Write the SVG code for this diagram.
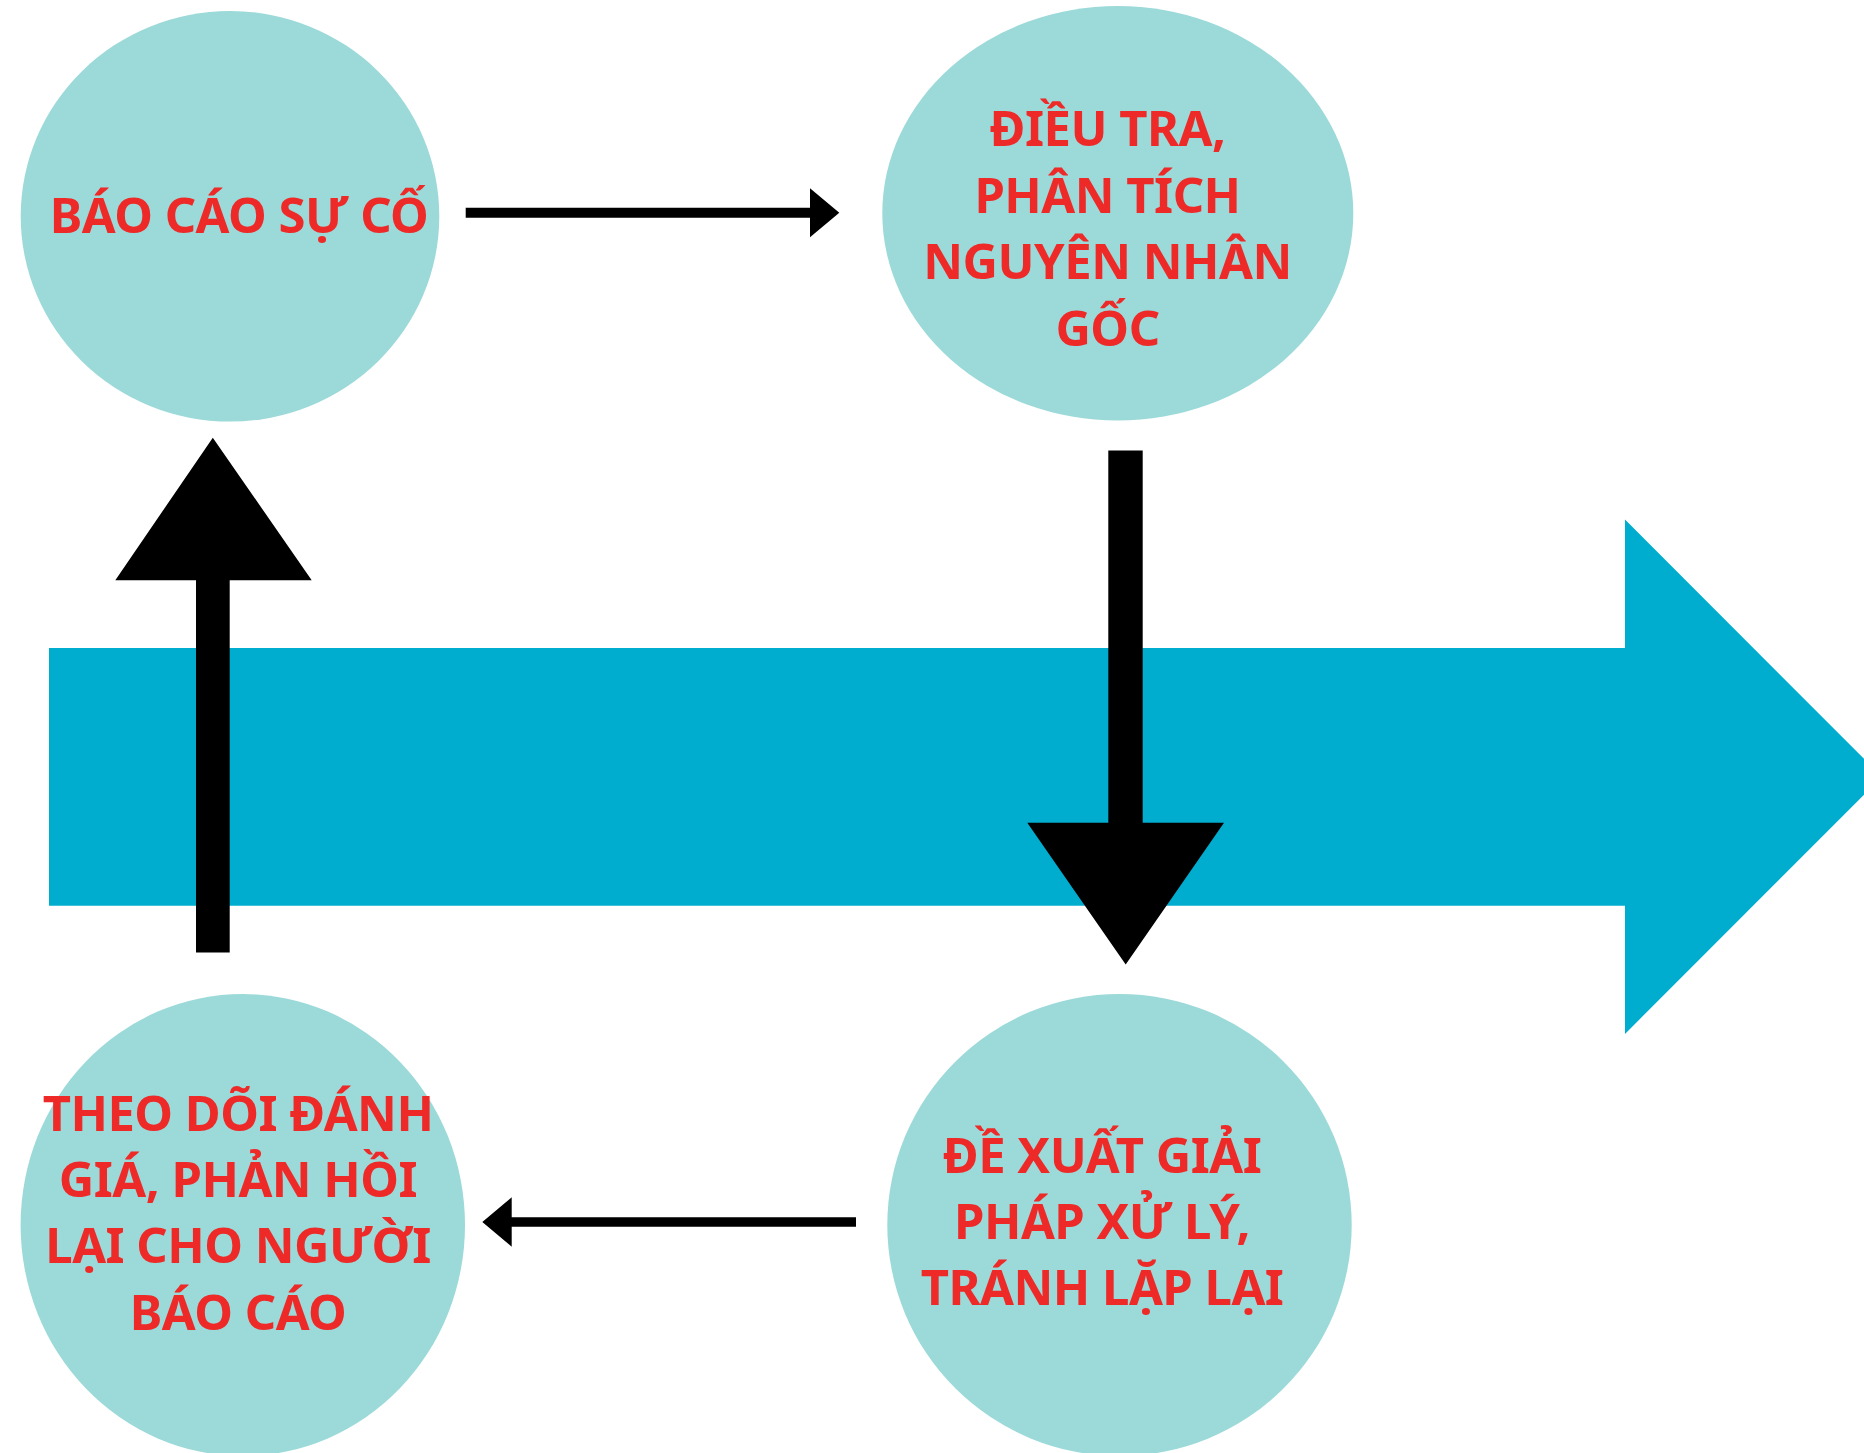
<svg xmlns="http://www.w3.org/2000/svg" width="1864" height="1453" viewBox="0 0 1864 1453">
<style>
.node{fill:#9CD9D9}
.lbl{font-family:"Noto Sans","Open Sans","Liberation Sans",sans-serif;font-weight:700;font-size:49px;letter-spacing:-0.5px;fill:#EE2A28;text-anchor:middle}
.blk{fill:#000}
</style>
<rect width="1864" height="1453" fill="#fff"/>
<g id="flow-arrow">
<polygon points="49,648 1625,648 1625,519.6 1882,776.7 1625,1033.9 1625,905.8 49,905.8" fill="#00ADCE"/>
</g>
<g id="node-bao-cao">
<ellipse class="node" cx="230" cy="216.3" rx="209.3" ry="205.3"/>
<text class="lbl" x="239" y="233.3">BÁO CÁO SỰ CỐ</text>
</g>
<g id="node-dieu-tra">
<ellipse class="node" cx="1117.8" cy="213.3" rx="235.5" ry="207.3"/>
<text class="lbl" x="1107.5" y="146">ĐIỀU TRA,</text>
<text class="lbl" x="1107.5" y="212.7">PHÂN TÍCH</text>
<text class="lbl" x="1107.5" y="279.3">NGUYÊN NHÂN</text>
<text class="lbl" x="1107.5" y="346">GỐC</text>
</g>
<g id="node-de-xuat">
<ellipse class="node" cx="1119.5" cy="1225" rx="232.2" ry="231"/>
<text class="lbl" x="1102" y="1172.7">ĐỀ XUẤT GIẢI</text>
<text class="lbl" x="1102" y="1239.3">PHÁP XỬ LÝ,</text>
<text class="lbl" x="1102" y="1305">TRÁNH LẶP LẠI</text>
</g>
<g id="node-theo-doi">
<ellipse class="node" cx="242.8" cy="1225" rx="222.2" ry="231"/>
<text class="lbl" x="238" y="1130.7">THEO DÕI ĐÁNH</text>
<text class="lbl" x="238" y="1196.7">GIÁ, PHẢN HỒI</text>
<text class="lbl" x="238" y="1263.3">LẠI CHO NGƯỜI</text>
<text class="lbl" x="238" y="1330">BÁO CÁO</text>
</g>
<g id="connectors">
<polygon class="blk" points="465.7,207.7 810,207.7 810,188.3 839.3,212.7 810,237.3 810,217.7 465.7,217.7"/>
<polygon class="blk" points="1108.3,450.6 1142.7,450.6 1142.7,822.8 1224,822.8 1125.7,964.5 1027.3,822.8 1108.3,822.8"/>
<polygon class="blk" points="856,1217.3 511.7,1217.3 511.7,1197.3 482.3,1222 511.7,1246.7 511.7,1226.7 856,1226.7"/>
<polygon class="blk" points="229.7,952.5 196,952.5 196,580.2 115.3,580.2 212.8,437.7 311.7,580.2 229.7,580.2"/>
</g>
</svg>
